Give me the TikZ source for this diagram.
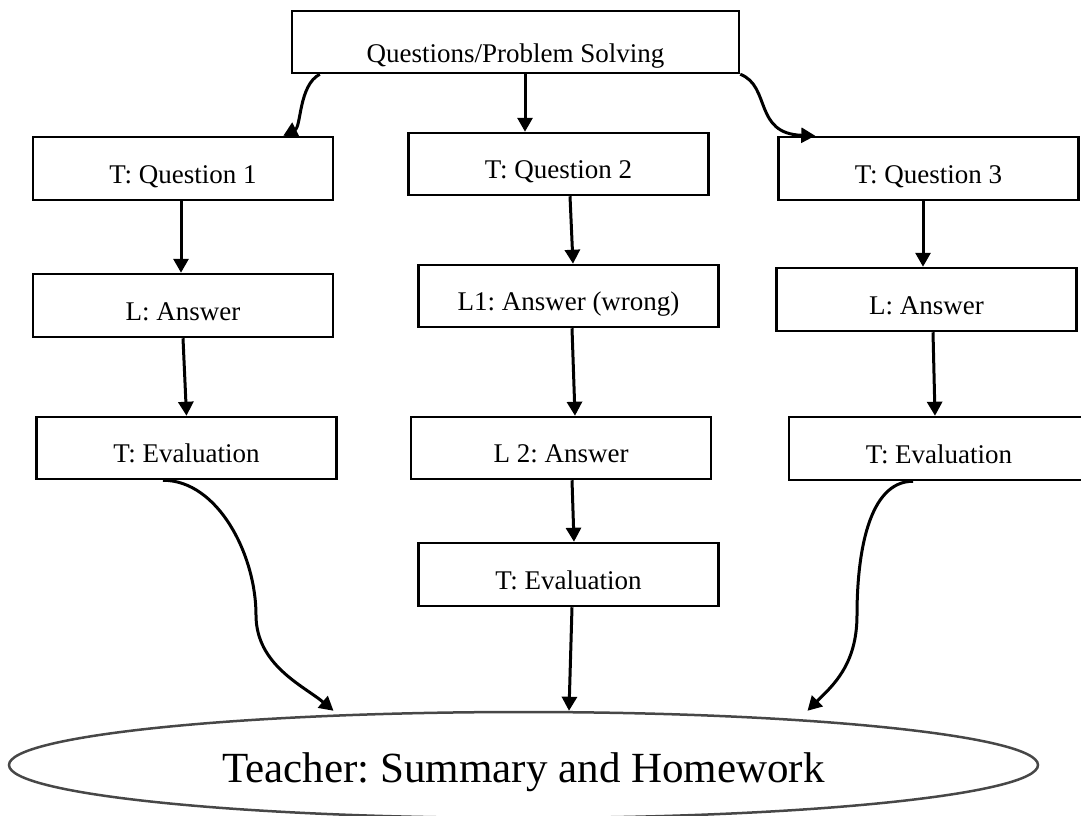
\documentclass[tikz,border=0pt]{standalone}
\usepackage{fontspec}
\setmainfont{Liberation Serif}
\usetikzlibrary{arrows.meta,shapes.geometric}
\frenchspacing
\begin{document}
\begin{tikzpicture}[x=1pt,y=-1pt,
  box/.style={draw, line width=2.5pt, rectangle, minimum width=300pt, minimum height=63pt,
    inner sep=0pt, text height=29pt, text depth=0pt, font=\fontsize{27}{30}\selectfont},
  arr/.style={line width=3pt, -{Triangle[length=14pt,width=15pt]}},
]
\useasboundingbox (0,0) rectangle (1081,816);

% top
\node[box, minimum width=447pt, minimum height=62pt, text height=42pt] (top) at (515.5,42) {Questions/Problem Solving};

% column 1
\node[box] (q1) at (183,168.5) {T: Question 1};
\node[box] (l1) at (183,305.5) {L: Answer};
\node[box, minimum height=62pt] (e1) at (186.5,448) {T: Evaluation};

% column 2
\node[box, minimum height=62pt] (q2) at (558.5,164) {T: Question 2};
\node[box, minimum height=62pt] (w2) at (568.5,296) {L1: Answer (wrong)};
\node[box, minimum height=62pt] (a2) at (561,448) {L 2: Answer};
\node[box] (e2) at (568.5,574.5) {T: Evaluation};

% column 3
\node[box] (q3) at (928.5,168.5) {T: Question 3};
\node[box] (l3) at (926.5,299.5) {L: Answer};
\node[box] (e3) at (939,448.5) {T: Evaluation};

% summary ellipse
\node[draw=black!72, line width=2.5pt, ellipse, minimum width=1029pt, minimum height=106pt,
  inner sep=0pt, text height=34pt, text depth=0pt, font=\fontsize{43}{46}\selectfont]
  (sum) at (523.5,765) {Teacher: Summary and Homework};

% via points
\coordinate (lv) at (256,615);
\coordinate (rv) at (857,615);

% arrows from top
\draw[arr] ([xshift=9.5]top.south) -- ([xshift=-33.5]q2.north);
\draw[arr] ([xshift=29]top.south west) .. controls +(-21,11) and +(18,-9) .. ([xshift=-51]q1.north east);
\draw[arr] (top.south east) .. controls +(31,12) and +(-62,-2) .. ([xshift=38]q3.north west);

% column 1
\draw[arr] ([xshift=-2]q1.south) -- ([xshift=-2]l1.north);
\draw[arr] (l1.south) -- (e1.north);

% column 2
\draw[arr] ([xshift=11.5]q2.south) -- ([xshift=4.5]w2.north);
\draw[arr] ([xshift=3.5]w2.south) -- ([xshift=14]a2.north);
\draw[arr] ([xshift=11]a2.south) -- ([xshift=5.5]e2.north);
\draw[arr] ([xshift=3.5]e2.south) -- ([xshift=45.5]sum.north);

% column 3
\draw[arr] ([xshift=-5.5]q3.south) -- ([xshift=-3.5]l3.north);
\draw[arr] ([xshift=6.5]l3.south) -- ([xshift=-4]e3.north);

% to summary
\draw[arr] ([xshift=-23.5]e1.south) .. controls +(55,0) and +(0,-60) .. (lv)
  .. controls +(0,50) and +(-30,-25) .. ([xshift=-190]sum.north);
\draw[arr] ([xshift=-26]e3.south) .. controls +(-45,0) and +(0,-60) .. (rv)
  .. controls +(0,50) and +(25,-25) .. ([xshift=284]sum.north);
\end{tikzpicture}
\end{document}
